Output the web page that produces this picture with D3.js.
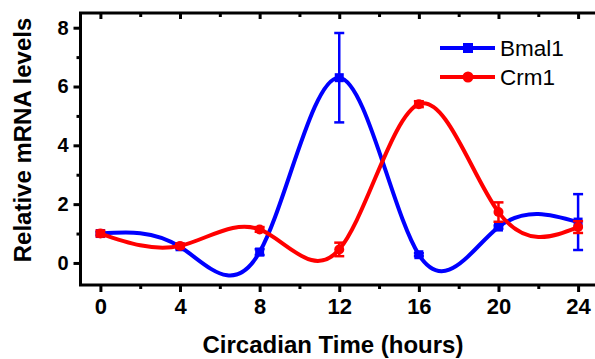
<!DOCTYPE html>
<html><head><meta charset="utf-8">
<script src="https://cdn.jsdelivr.net/npm/d3@7"></script>
<style>html,body{margin:0;padding:0;background:#fff;}svg{display:block;}</style>
</head><body>
<svg id="c" width="595" height="359"></svg>
<script>
const hours = [0, 4, 8, 12, 16, 20, 24];
const bmal1 = [1.0, 0.55, 0.37, 6.3, 0.28, 1.22, 1.39];
const bmal1Err = [0.05, 0.05, 0.1, 1.52, 0.05, 0.05, 0.95];
const crm1 = [1.0, 0.58, 1.14, 0.46, 5.4, 1.73, 1.22];
const crm1Err = [0.1, 0.07, 0.08, 0.23, 0.1, 0.33, 0.2];
const xTicks = [0, 4, 8, 12, 16, 20, 24];
const yTicks = [0, 2, 4, 6, 8];
const seriesNames = ["Bmal1", "Crm1"];
const colors = ["#0000ff", "#ff0000"];

const svg = d3.select("#c");
const x = d3.scaleLinear().domain([-1, 25]).range([80.5, 598]);
const y = d3.scaleLinear().domain([-0.75, 8.5]).range([285, 13]);
const font = "Liberation Sans, Arial, sans-serif";

// frame
svg.append("rect").attr("x", x(-1)).attr("y", y(8.5)).attr("width", x(25) - x(-1)).attr("height", y(-0.75) - y(8.5))
  .attr("fill", "none").attr("stroke", "#000").attr("stroke-width", 3);

// bottom axis
const xAxis = d3.axisBottom(x).tickValues(xTicks).tickSize(7).tickPadding(6).tickFormat(d3.format("d"));
const gx = svg.append("g").attr("transform", `translate(0,${y(-0.75)})`).call(xAxis);
gx.select(".domain").remove();
gx.selectAll(".tick line").attr("stroke", "#000").attr("stroke-width", 3);
gx.selectAll(".tick text").attr("font-family", font).attr("font-weight", "bold").attr("font-size", 22).attr("fill", "#000");
const xMinor = d3.axisBottom(x).tickValues([2, 6, 10, 14, 18, 22]).tickSize(4).tickFormat("");
const gxm = svg.append("g").attr("transform", `translate(0,${y(-0.75)})`).call(xMinor);
gxm.select(".domain").remove();
gxm.selectAll(".tick line").attr("stroke", "#000").attr("stroke-width", 3);

// top axis (inner ticks)
const gt = svg.append("g").attr("transform", `translate(0,${y(8.5)})`).call(d3.axisBottom(x).tickValues(xTicks).tickSize(6).tickFormat(""));
gt.select(".domain").remove();
gt.selectAll(".tick line").attr("stroke", "#000").attr("stroke-width", 3);
const gtm = svg.append("g").attr("transform", `translate(0,${y(8.5)})`).call(d3.axisBottom(x).tickValues([2, 6, 10, 14, 18, 22]).tickSize(4).tickFormat(""));
gtm.select(".domain").remove();
gtm.selectAll(".tick line").attr("stroke", "#000").attr("stroke-width", 3);

// left axis
const gy = svg.append("g").attr("transform", `translate(${x(-1)},0)`).call(d3.axisLeft(y).tickValues(yTicks).tickSize(7).tickPadding(5));
gy.select(".domain").remove();
gy.selectAll(".tick line").attr("stroke", "#000").attr("stroke-width", 3);
gy.selectAll(".tick text").attr("font-family", font).attr("font-weight", "bold").attr("font-size", 20).attr("fill", "#000");
const gym = svg.append("g").attr("transform", `translate(${x(-1)},0)`).call(d3.axisLeft(y).tickValues([1, 3, 5, 7]).tickSize(4).tickFormat(""));
gym.select(".domain").remove();
gym.selectAll(".tick line").attr("stroke", "#000").attr("stroke-width", 3);

// titles
svg.append("text").attr("x", 333).attr("y", 353).attr("text-anchor", "middle")
  .attr("font-family", font).attr("font-weight", "bold").attr("font-size", 24).text("Circadian Time (hours)");
svg.append("text").attr("transform", "translate(31,140) rotate(-90)").attr("text-anchor", "middle")
  .attr("font-family", font).attr("font-weight", "bold").attr("font-size", 24).text("Relative mRNA levels");

// series
const series = [
  { vals: bmal1, errs: bmal1Err, color: colors[0], marker: "square" },
  { vals: crm1, errs: crm1Err, color: colors[1], marker: "circle" }
];
const line = d3.line().x(d => x(d[0])).y(d => y(d[1])).curve(d3.curveNatural);
series.forEach(s => {
  const pts = hours.map((h, i) => [h, s.vals[i], s.errs[i]]);
  const g = svg.append("g");
  g.append("path").datum(pts).attr("d", line).attr("fill", "none").attr("stroke", s.color).attr("stroke-width", 4);
  const eb = g.selectAll(".eb").data(pts).enter().append("g");
  eb.append("line").attr("x1", d => x(d[0])).attr("x2", d => x(d[0])).attr("y1", d => y(d[1] + d[2])).attr("y2", d => y(d[1] - d[2]))
    .attr("stroke", s.color).attr("stroke-width", 2.5);
  [1, -1].forEach(sg => {
    eb.append("line").attr("x1", d => x(d[0]) - 5).attr("x2", d => x(d[0]) + 5)
      .attr("y1", d => y(d[1] + sg * d[2])).attr("y2", d => y(d[1] + sg * d[2]))
      .attr("stroke", s.color).attr("stroke-width", 2.5);
  });
  if (s.marker === "square") {
    g.selectAll(".m").data(pts).enter().append("rect")
      .attr("x", d => x(d[0]) - 4.5).attr("y", d => y(d[1]) - 4.5).attr("width", 9).attr("height", 9).attr("fill", s.color);
  } else {
    g.selectAll(".m").data(pts).enter().append("circle")
      .attr("cx", d => x(d[0])).attr("cy", d => y(d[1])).attr("r", 5).attr("fill", s.color);
  }
});

// legend
const leg = svg.append("g");
seriesNames.forEach((n, i) => {
  const ly = 48 + i * 29;
  leg.append("line").attr("x1", 440).attr("x2", 495).attr("y1", ly).attr("y2", ly).attr("stroke", colors[i]).attr("stroke-width", 4);
  if (i === 0) leg.append("rect").attr("x", 463).attr("y", ly - 5).attr("width", 10).attr("height", 10).attr("fill", colors[i]);
  else leg.append("circle").attr("cx", 468).attr("cy", ly).attr("r", 5.5).attr("fill", colors[i]);
  leg.append("text").attr("x", 500).attr("y", ly + 8).attr("font-family", font).attr("font-size", 22.5).attr("fill", "#000").text(n);
});
</script>
</body></html>
